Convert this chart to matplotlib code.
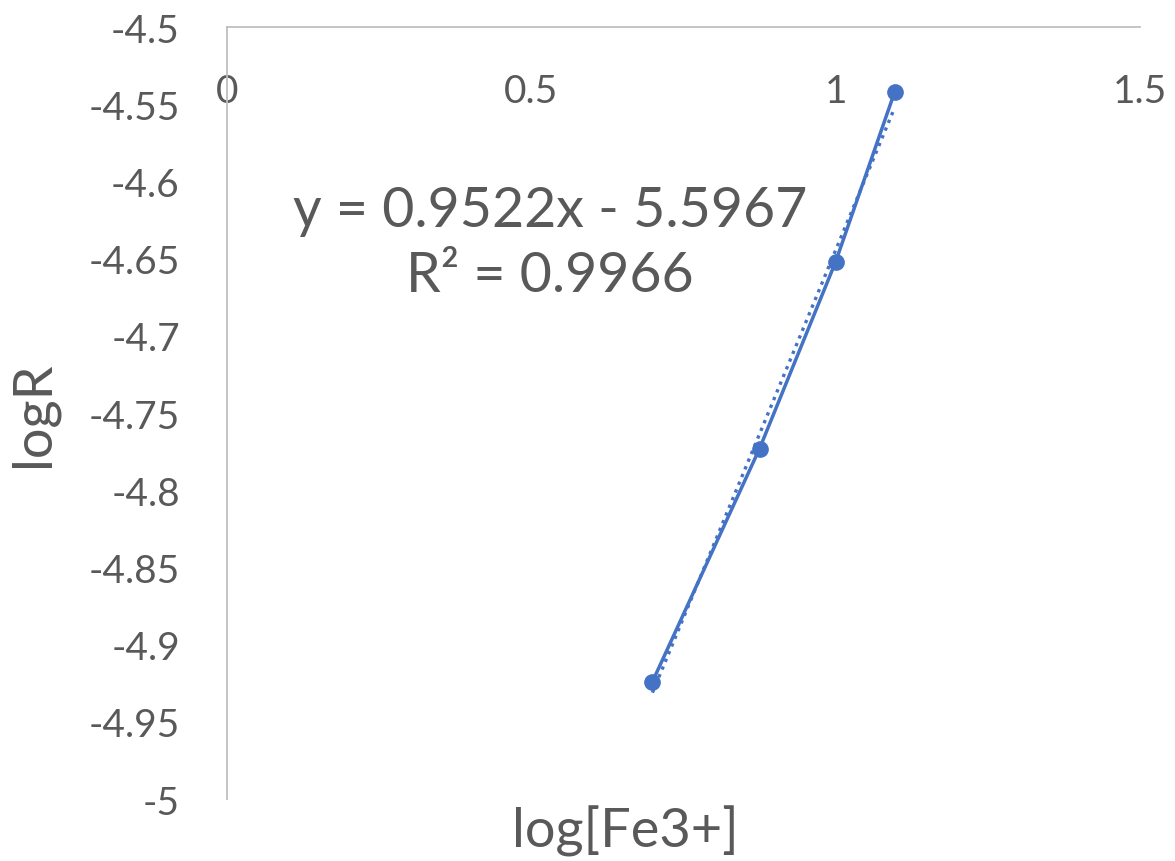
import numpy as np
import matplotlib.pyplot as plt

plt.rcParams['font.family'] = ['Lato', 'DejaVu Sans']

# data
log_fe = [0.699, 0.875, 1.0, 1.097]
log_r = [-4.924, -4.773, -4.652, -4.542]
slope, intercept = 0.9522, -5.5967
y_ticks = [-5, -4.95, -4.9, -4.85, -4.8, -4.75, -4.7, -4.65, -4.6, -4.55, -4.5]
y_tick_labels = ['-5', '-4.95', '-4.9', '-4.85', '-4.8', '-4.75', '-4.7', '-4.65', '-4.6', '-4.55', '-4.5']
x_ticks = [0, 0.5, 1, 1.5]
x_tick_labels = ['0', '0.5', '1', '1.5']

blue = '#4472C4'
grey_text = '#595959'
axis_grey = '#BFBFBF'

fig = plt.figure(figsize=(11.75, 8.62), dpi=100)
ax = fig.add_axes([0.1932, 0.0719, 0.9702 - 0.1932, 0.9675 - 0.0719])

ax.plot(log_fe, log_r, color=blue, lw=2.5, marker='o', ms=11, zorder=3)

# linear trendline (dotted)
xt = np.array([log_fe[0], log_fe[-1]])
ax.plot(xt, slope * xt + intercept, color=blue, lw=2.4, ls=(0, (1, 1.5)), zorder=2)

ax.set_xlim(0, 1.5)
ax.set_ylim(-5, -4.5)
ax.set_xticks(x_ticks)
ax.set_xticklabels(x_tick_labels)
ax.set_yticks(y_ticks)
ax.set_yticklabels(y_tick_labels)

ax.spines['right'].set_visible(False)
ax.spines['top'].set_visible(False)
ax.spines['bottom'].set_position(('data', -4.5))
ax.spines['bottom'].set_color(axis_grey)
ax.spines['left'].set_color(axis_grey)
ax.spines['bottom'].set_linewidth(1.3)
ax.spines['left'].set_linewidth(1.3)

ax.tick_params(axis='x', length=0, pad=33, labelsize=28, labelcolor=grey_text)
ax.tick_params(axis='y', length=0, pad=34, labelsize=28, labelcolor=grey_text)

ax.text(0.531, -4.640, 'y = 0.9522x - 5.5967\nR² = 0.9966', ha='center', va='center',
        fontsize=40, color=grey_text, linespacing=1.35)

fig.text(0.028, 0.52, 'logR', rotation=90, ha='center', va='center', fontsize=39, color=grey_text)
fig.text(0.532, 0.035, 'log[Fe3+]', ha='center', va='center', fontsize=39, color=grey_text)

fig.savefig('out.png', dpi=100)
